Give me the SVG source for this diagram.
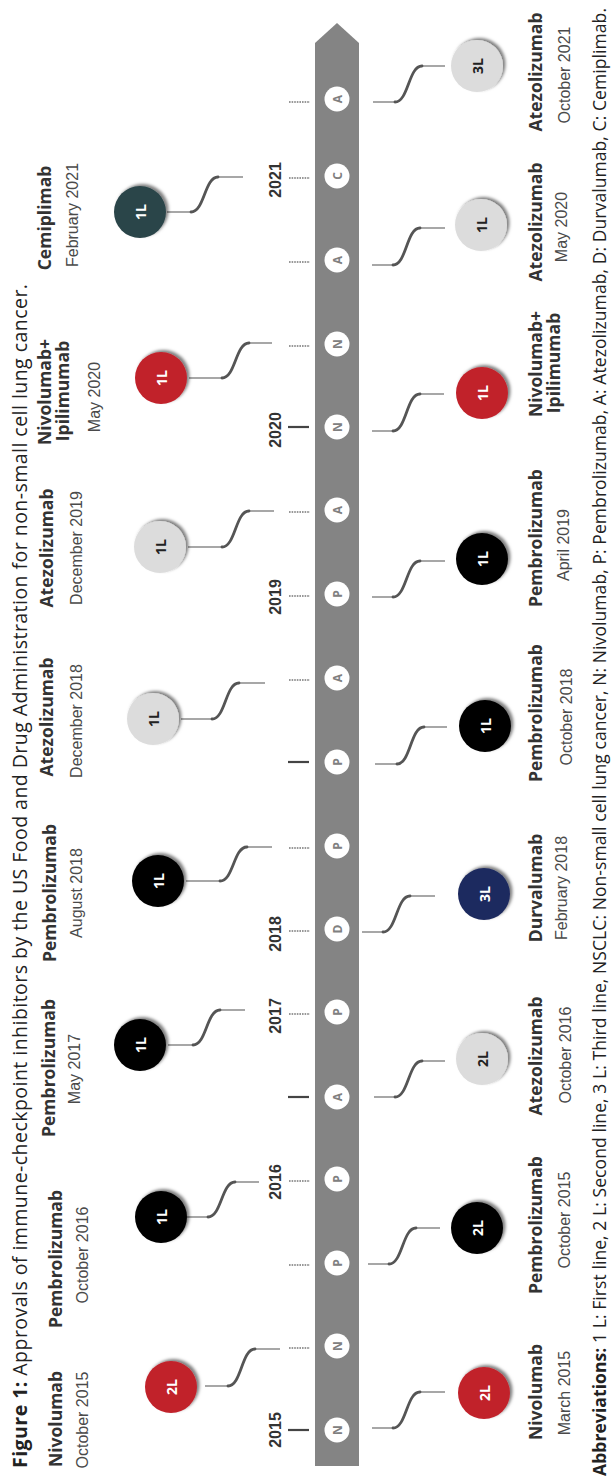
<svg xmlns="http://www.w3.org/2000/svg" width="613" height="1480" viewBox="0 0 613 1480">
<style>
.name{font-family:"Open Sans","Liberation Sans",sans-serif;font-weight:700;font-size:17.5px;fill:#333;text-anchor:middle}
.date{font-family:"Liberation Sans",Arial,sans-serif;font-size:16px;fill:#4a4a4a;text-anchor:middle}
.yr{font-family:"Liberation Sans",Arial,sans-serif;font-weight:700;font-size:16px;fill:#333;text-anchor:middle}
.nl{font-family:"Open Sans","Liberation Sans",sans-serif;font-weight:700;font-size:14px;text-anchor:middle;dominant-baseline:central}
.w{fill:#fff}.k{fill:#222}
.ll{font-family:"Open Sans","Liberation Sans",sans-serif;font-weight:700;font-size:12px;fill:#808080;text-anchor:middle;dominant-baseline:central}
.lc{fill:#fff}
.cl{fill:none;stroke:#8a8a8a;stroke-width:1.6}
.cc{fill:none;stroke:#555;stroke-width:2.8;stroke-linecap:round}
.td{stroke:#333;stroke-width:1.2;stroke-dasharray:1.6 1}
.ts{stroke:#444;stroke-width:2.2}
.red{fill:#c1212b}.blk{fill:#050505}.gry{fill:#dcdcdc}.navy{fill:#1f2a5e}.teal{fill:#2a4448}
.title{font-family:"Open Sans","Liberation Sans",sans-serif;font-size:19.5px;fill:#222}
.abbr{font-family:"Open Sans","Liberation Sans",sans-serif;font-size:17.5px;fill:#222}
</style>
<defs>
<filter id="sh" x="-40%" y="-40%" width="180%" height="180%">
<feDropShadow dx="2.5" dy="-2" stdDeviation="1.8" flood-color="#000" flood-opacity="0.5"/>
</filter>
</defs>

<g id="title">
<text class="title" x="27" y="1468" transform="rotate(-90 27 1468)" textLength="1184" lengthAdjust="spacing"><tspan font-weight="700">Figure 1:</tspan> Approvals of immune-checkpoint inhibitors by the US Food and Drug Administration for non-small cell lung cancer.</text>
</g>

<g id="timeline">
<polygon points="315,1466 315,43 337,23 359,43 359,1466" fill="#848484"/>
</g>

<g id="ticks">
<line class="ts" x1="288" y1="1430" x2="309" y2="1430"/>
<line class="td" x1="289" y1="1348" x2="310" y2="1348"/>
<line class="td" x1="289" y1="1265" x2="310" y2="1265"/>
<line class="td" x1="289" y1="1181" x2="310" y2="1181"/>
<line class="ts" x1="288" y1="1097" x2="309" y2="1097"/>
<line class="td" x1="289" y1="1014" x2="310" y2="1014"/>
<line class="td" x1="289" y1="931" x2="310" y2="931"/>
<line class="td" x1="289" y1="848" x2="310" y2="848"/>
<line class="ts" x1="288" y1="762" x2="309" y2="762"/>
<line class="td" x1="289" y1="680" x2="310" y2="680"/>
<line class="td" x1="289" y1="596" x2="310" y2="596"/>
<line class="td" x1="289" y1="512" x2="310" y2="512"/>
<line class="ts" x1="288" y1="427" x2="309" y2="427"/>
<line class="td" x1="289" y1="346" x2="310" y2="346"/>
<line class="td" x1="289" y1="262" x2="310" y2="262"/>
<line class="td" x1="289" y1="178" x2="310" y2="178"/>
<line class="td" x1="289" y1="102" x2="310" y2="102"/>
</g>

<g id="years">
<text class="yr" x="281" y="1430" transform="rotate(-90 281 1430)">2015</text>
<text class="yr" x="281" y="1182" transform="rotate(-90 281 1182)">2016</text>
<text class="yr" x="281" y="1016" transform="rotate(-90 281 1016)">2017</text>
<text class="yr" x="281" y="934" transform="rotate(-90 281 934)">2018</text>
<text class="yr" x="281" y="597" transform="rotate(-90 281 597)">2019</text>
<text class="yr" x="281" y="430" transform="rotate(-90 281 430)">2020</text>
<text class="yr" x="281" y="180" transform="rotate(-90 281 180)">2021</text>
</g>

<g id="markers">
<circle class="lc" cx="337" cy="1430" r="12.5"/><text class="ll" x="337" y="1430" transform="rotate(-90 337 1430)">N</text>
<circle class="lc" cx="337" cy="1346" r="12.5"/><text class="ll" x="337" y="1346" transform="rotate(-90 337 1346)">N</text>
<circle class="lc" cx="337" cy="1263" r="12.5"/><text class="ll" x="337" y="1263" transform="rotate(-90 337 1263)">P</text>
<circle class="lc" cx="337" cy="1179" r="12.5"/><text class="ll" x="337" y="1179" transform="rotate(-90 337 1179)">P</text>
<circle class="lc" cx="337" cy="1097" r="12.5"/><text class="ll" x="337" y="1097" transform="rotate(-90 337 1097)">A</text>
<circle class="lc" cx="337" cy="1012" r="12.5"/><text class="ll" x="337" y="1012" transform="rotate(-90 337 1012)">P</text>
<circle class="lc" cx="337" cy="929" r="12.5"/><text class="ll" x="337" y="929" transform="rotate(-90 337 929)">D</text>
<circle class="lc" cx="337" cy="846" r="12.5"/><text class="ll" x="337" y="846" transform="rotate(-90 337 846)">P</text>
<circle class="lc" cx="337" cy="762" r="12.5"/><text class="ll" x="337" y="762" transform="rotate(-90 337 762)">P</text>
<circle class="lc" cx="337" cy="678" r="12.5"/><text class="ll" x="337" y="678" transform="rotate(-90 337 678)">A</text>
<circle class="lc" cx="337" cy="594" r="12.5"/><text class="ll" x="337" y="594" transform="rotate(-90 337 594)">P</text>
<circle class="lc" cx="337" cy="510" r="12.5"/><text class="ll" x="337" y="510" transform="rotate(-90 337 510)">A</text>
<circle class="lc" cx="337" cy="427" r="12.5"/><text class="ll" x="337" y="427" transform="rotate(-90 337 427)">N</text>
<circle class="lc" cx="337" cy="344" r="12.5"/><text class="ll" x="337" y="344" transform="rotate(-90 337 344)">N</text>
<circle class="lc" cx="337" cy="260" r="12.5"/><text class="ll" x="337" y="260" transform="rotate(-90 337 260)">A</text>
<circle class="lc" cx="337" cy="176" r="12.5"/><text class="ll" x="337" y="176" transform="rotate(-90 337 176)">C</text>
<circle class="lc" cx="337" cy="99" r="12.5"/><text class="ll" x="337" y="99" transform="rotate(-90 337 99)">A</text>
</g>

<g id="connectors">
<path class="cl" d="M205 1386H228M255 1349H280"/><path class="cc" d="M228 1386C241.5 1386 241.5 1349 255 1349"/>
<path class="cl" d="M187 1217H208M235 1182H259"/><path class="cc" d="M208 1217C221.5 1217 221.5 1182 235 1182"/>
<path class="cl" d="M168 1045H193M220 1010H245"/><path class="cc" d="M193 1045C206.5 1045 206.5 1010 220 1010"/>
<path class="cl" d="M186 881H220M247 847H272"/><path class="cc" d="M220 881C233.5 881 233.5 847 247 847"/>
<path class="cl" d="M181 719H212M239 683H265"/><path class="cc" d="M212 719C225.5 719 225.5 683 239 683"/>
<path class="cl" d="M188 547H222M249 511H274"/><path class="cc" d="M222 547C235.5 547 235.5 511 249 511"/>
<path class="cl" d="M189 378H222M249 343H272"/><path class="cc" d="M222 378C235.5 378 235.5 343 249 343"/>
<path class="cl" d="M167 212H191M218 177H243"/><path class="cc" d="M191 212C204.5 212 204.5 177 218 177"/>
<path class="cl" d="M372 1428H393M420 1392H445"/><path class="cc" d="M393 1428C406.5 1428 406.5 1392 420 1392"/>
<path class="cl" d="M368 1264H389M416 1228H440"/><path class="cc" d="M389 1264C402.5 1264 402.5 1228 416 1228"/>
<path class="cl" d="M374 1097H395M422 1061H445"/><path class="cc" d="M395 1097C408.5 1097 408.5 1061 422 1061"/>
<path class="cl" d="M362 932H383M410 896H435"/><path class="cc" d="M383 932C396.5 932 396.5 896 410 896"/>
<path class="cl" d="M375 764H397M424 727H447"/><path class="cc" d="M397 764C410.5 764 410.5 727 424 727"/>
<path class="cl" d="M372 597H393M420 561H445"/><path class="cc" d="M393 597C406.5 597 406.5 561 420 561"/>
<path class="cl" d="M372 431H393M420 394H444"/><path class="cc" d="M393 431C406.5 431 406.5 394 420 394"/>
<path class="cl" d="M372 265H393M420 228H445"/><path class="cc" d="M393 265C406.5 265 406.5 228 420 228"/>
<path class="cl" d="M373 102H395M422 66H445"/><path class="cc" d="M395 102C408.5 102 408.5 66 422 66"/>
</g>

<g id="node-nivo-oct2015">
<circle class="red" cx="171" cy="1387" r="26" filter="url(#sh)"/>
<text class="nl w" x="171" y="1387" transform="rotate(-90 171 1387)">2L</text>
<text class="name" x="62" y="1419" transform="rotate(-90 62 1419)">Nivolumab</text>
<text class="date" x="87.5" y="1420" transform="rotate(-90 87.5 1420)">October 2015</text>
</g>
<g id="node-pembro-oct2016">
<circle class="blk" cx="161" cy="1217" r="26" filter="url(#sh)"/>
<text class="nl w" x="161" y="1217" transform="rotate(-90 161 1217)">1L</text>
<text class="name" x="62" y="1259" transform="rotate(-90 62 1259)">Pembrolizumab</text>
<text class="date" x="87.5" y="1255" transform="rotate(-90 87.5 1255)">October 2016</text>
</g>
<g id="node-pembro-may2017">
<circle class="blk" cx="140" cy="1045" r="26" filter="url(#sh)"/>
<text class="nl w" x="140" y="1045" transform="rotate(-90 140 1045)">1L</text>
<text class="name" x="54.5" y="1068" transform="rotate(-90 54.5 1068)">Pembrolizumab</text>
<text class="date" x="80" y="1069" transform="rotate(-90 80 1069)">May 2017</text>
</g>
<g id="node-pembro-aug2018">
<circle class="blk" cx="158" cy="881" r="26" filter="url(#sh)"/>
<text class="nl w" x="158" y="881" transform="rotate(-90 158 881)">1L</text>
<text class="name" x="56" y="893" transform="rotate(-90 56 893)">Pembrolizumab</text>
<text class="date" x="81.5" y="893" transform="rotate(-90 81.5 893)">August 2018</text>
</g>
<g id="node-atezo-dec2018">
<circle class="gry" cx="153" cy="719" r="26" filter="url(#sh)"/>
<text class="nl k" x="153" y="719" transform="rotate(-90 153 719)">1L</text>
<text class="name" x="52.5" y="717" transform="rotate(-90 52.5 717)">Atezolizumab</text>
<text class="date" x="82" y="721" transform="rotate(-90 82 721)">December 2018</text>
</g>
<g id="node-atezo-dec2019">
<circle class="gry" cx="160" cy="547" r="26" filter="url(#sh)"/>
<text class="nl k" x="160" y="547" transform="rotate(-90 160 547)">1L</text>
<text class="name" x="52.5" y="548" transform="rotate(-90 52.5 548)">Atezolizumab</text>
<text class="date" x="82" y="548" transform="rotate(-90 82 548)">December 2019</text>
</g>
<g id="node-nivoipi-may2020">
<circle class="red" cx="161" cy="378" r="26" filter="url(#sh)"/>
<text class="nl w" x="161" y="378" transform="rotate(-90 161 378)">1L</text>
<text class="name" x="51" y="392" transform="rotate(-90 51 392)">Nivolumab+</text>
<text class="name" x="69" y="391" transform="rotate(-90 69 391)">Ipilimumab</text>
<text class="date" x="100" y="397" transform="rotate(-90 100 397)">May 2020</text>
</g>
<g id="node-cemi-feb2021">
<circle class="teal" cx="140" cy="212" r="26" filter="url(#sh)"/>
<text class="nl w" x="140" y="212" transform="rotate(-90 140 212)">1L</text>
<text class="name" x="50.5" y="218" transform="rotate(-90 50.5 218)">Cemiplimab</text>
<text class="date" x="78" y="215" transform="rotate(-90 78 215)">February 2021</text>
</g>

<g id="node-nivo-mar2015">
<circle class="red" cx="484" cy="1393" r="26" filter="url(#sh)"/>
<text class="nl w" x="484" y="1393" transform="rotate(-90 484 1393)">2L</text>
<text class="name" x="542" y="1392" transform="rotate(-90 542 1392)">Nivolumab</text>
<text class="date" x="570" y="1393" transform="rotate(-90 570 1393)">March 2015</text>
</g>
<g id="node-pembro-oct2015">
<circle class="blk" cx="477" cy="1228" r="26" filter="url(#sh)"/>
<text class="nl w" x="477" y="1228" transform="rotate(-90 477 1228)">2L</text>
<text class="name" x="542" y="1225" transform="rotate(-90 542 1225)">Pembrolizumab</text>
<text class="date" x="570" y="1220" transform="rotate(-90 570 1220)">October 2015</text>
</g>
<g id="node-atezo-oct2016">
<circle class="gry" cx="482" cy="1059" r="26" filter="url(#sh)"/>
<text class="nl k" x="482" y="1059" transform="rotate(-90 482 1059)">2L</text>
<text class="name" x="542" y="1056" transform="rotate(-90 542 1056)">Atezolizumab</text>
<text class="date" x="571" y="1055" transform="rotate(-90 571 1055)">October 2016</text>
</g>
<g id="node-durva-feb2018">
<circle class="navy" cx="484" cy="894" r="26" filter="url(#sh)"/>
<text class="nl w" x="484" y="894" transform="rotate(-90 484 894)">3L</text>
<text class="name" x="542" y="888" transform="rotate(-90 542 888)">Durvalumab</text>
<text class="date" x="567" y="888" transform="rotate(-90 567 888)">February 2018</text>
</g>
<g id="node-pembro-oct2018">
<circle class="blk" cx="485" cy="726" r="26" filter="url(#sh)"/>
<text class="nl w" x="485" y="726" transform="rotate(-90 485 726)">1L</text>
<text class="name" x="542" y="713" transform="rotate(-90 542 713)">Pembrolizumab</text>
<text class="date" x="572" y="717" transform="rotate(-90 572 717)">October 2018</text>
</g>
<g id="node-pembro-apr2019">
<circle class="blk" cx="482" cy="559" r="26" filter="url(#sh)"/>
<text class="nl w" x="482" y="559" transform="rotate(-90 482 559)">1L</text>
<text class="name" x="542" y="538" transform="rotate(-90 542 538)">Pembrolizumab</text>
<text class="date" x="569" y="545" transform="rotate(-90 569 545)">April 2019</text>
</g>
<g id="node-nivoipi-may2020-r">
<circle class="red" cx="482" cy="393" r="26" filter="url(#sh)"/>
<text class="nl w" x="482" y="393" transform="rotate(-90 482 393)">1L</text>
<text class="name" x="542" y="364" transform="rotate(-90 542 364)">Nivolumab+</text>
<text class="name" x="560" y="363" transform="rotate(-90 560 363)">Ipilimumab</text>
</g>
<g id="node-atezo-may2020">
<circle class="gry" cx="481" cy="225" r="26" filter="url(#sh)"/>
<text class="nl k" x="481" y="225" transform="rotate(-90 481 225)">1L</text>
<text class="name" x="542" y="222" transform="rotate(-90 542 222)">Atezolizumab</text>
<text class="date" x="567" y="227" transform="rotate(-90 567 227)">May 2020</text>
</g>
<g id="node-atezo-oct2021">
<circle class="gry" cx="477" cy="66" r="26" filter="url(#sh)"/>
<text class="nl k" x="477" y="66" transform="rotate(-90 477 66)">3L</text>
<text class="name" x="542" y="72" transform="rotate(-90 542 72)">Atezolizumab</text>
<text class="date" x="570" y="75" transform="rotate(-90 570 75)">October 2021</text>
</g>

<g id="abbreviations">
<text class="abbr" x="606" y="1476" transform="rotate(-90 606 1476)" textLength="1468" lengthAdjust="spacing"><tspan font-weight="700">Abbreviations:</tspan> 1 L: First line, 2 L: Second line, 3 L: Third line, NSCLC: Non-small cell lung cancer, N: Nivolumab, P: Pembrolizumab, A: Atezolizumab, D: Durvalumab, C: Cemiplimab.</text>
</g>
</svg>
